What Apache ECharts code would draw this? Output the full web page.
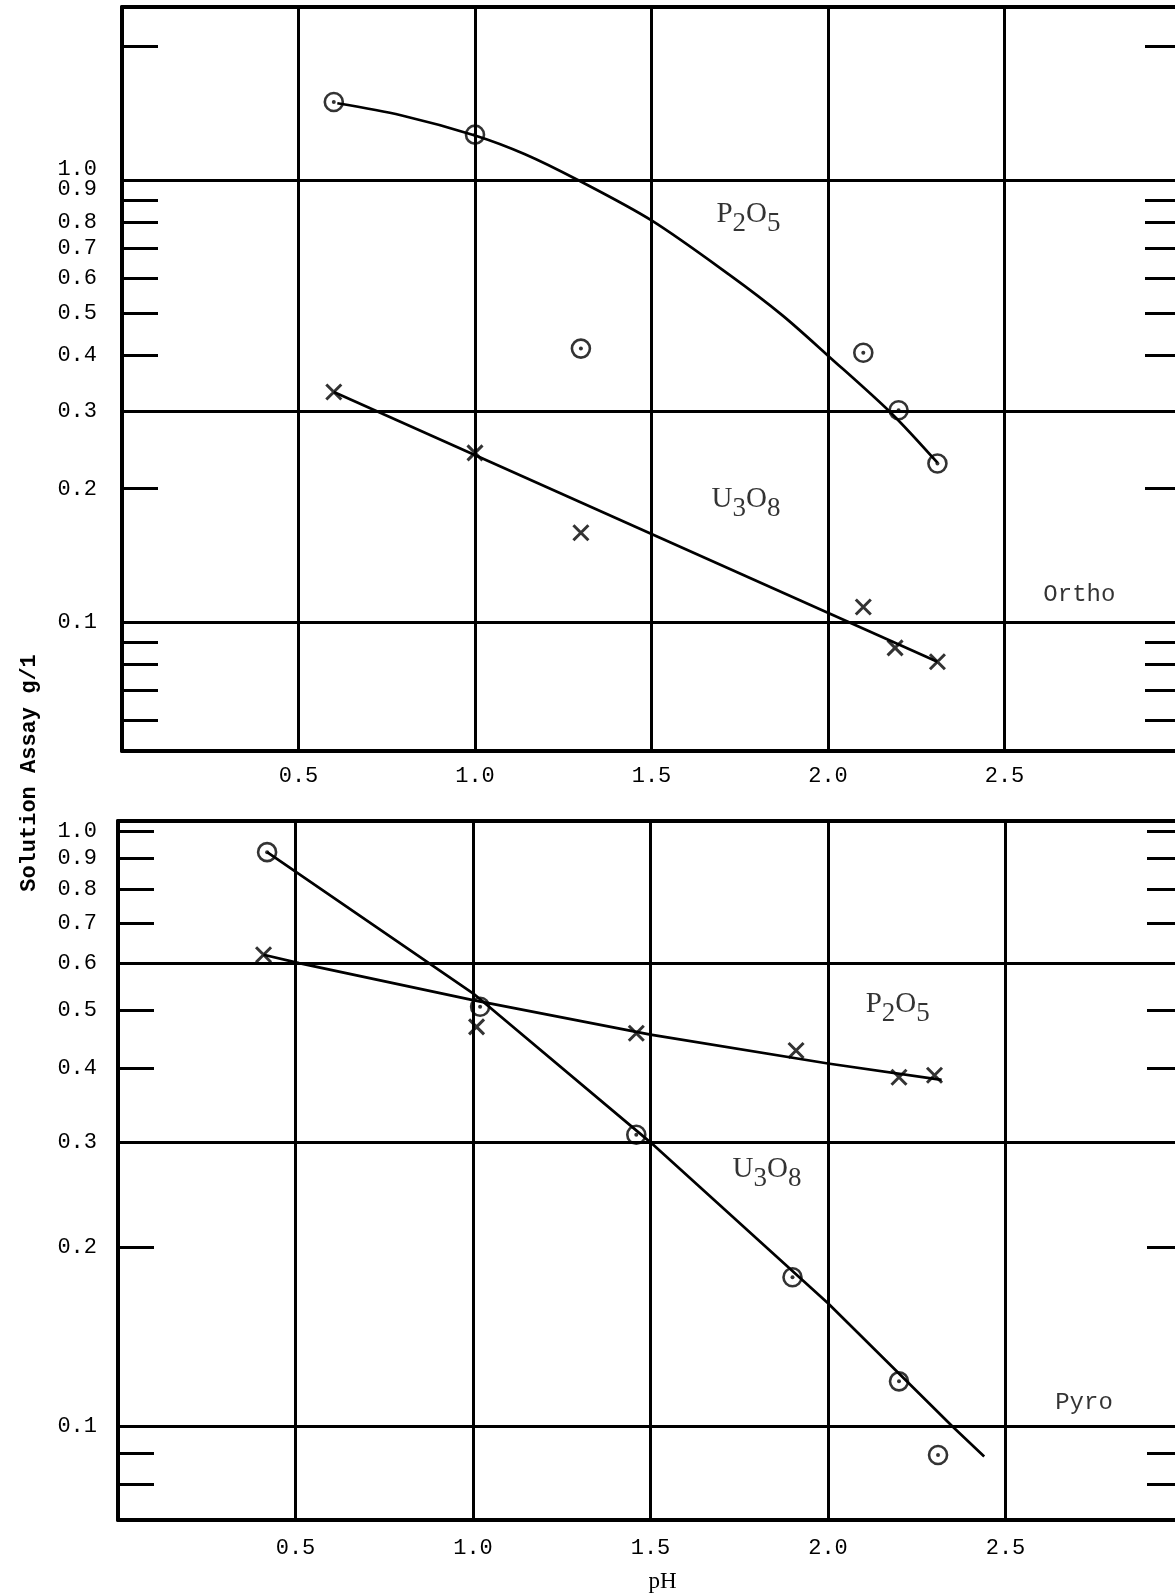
<!DOCTYPE html>
<html><head><meta charset="utf-8">
<script src="https://cdn.jsdelivr.net/npm/echarts@6/dist/echarts.min.js"></script>
<style>html,body{margin:0;padding:0;background:#fff;}#c{width:1175px;height:1595px;}</style>
</head><body><div id="c"></div>
<script>
// ---- tick / label values ----
const phTicks = [0.5, 1.0, 1.5, 2.0, 2.5];
const yLabelValues = [1.0, 0.9, 0.8, 0.7, 0.6, 0.5, 0.4, 0.3, 0.2, 0.1];
const orthoLabelValues = [0.8, 0.7, 0.6, 0.5, 0.4, 0.3, 0.2, 0.1];
const orthoCrowdedLabelA = [1.0];
const orthoCrowdedLabelB = [0.9];
const orthoTickValues = [2.0, 0.8, 0.7, 0.6, 0.5, 0.4, 0.2, 0.09, 0.08, 0.07, 0.06];
const orthoRightTickValues = [2.0, 0.9, 0.8, 0.7, 0.6, 0.5, 0.4, 0.2, 0.09, 0.08, 0.07, 0.06];
const orthoGridValues = [1.0, 0.3, 0.1];
const pyroTickValues = [1.0, 0.9, 0.8, 0.7, 0.5, 0.4, 0.2, 0.09, 0.08];
const pyroGridValues = [0.6, 0.3, 0.1];

// ---- Ortho panel data ----
const orthoP2O5_pH   = [0.6, 1.0, 1.3, 2.1, 2.2, 2.31];
const orthoP2O5      = [1.50, 1.265, 0.415, 0.406, 0.301, 0.228];
const orthoP2O5Fit_pH = [0.61, 0.79, 1.0, 1.14, 1.29, 1.5, 1.72, 1.87, 2.0, 2.18, 2.31];
const orthoP2O5Fit    = [1.49, 1.40, 1.26, 1.144, 1.0, 0.809, 0.610, 0.494, 0.40, 0.296, 0.229];
const orthoU3O8_pH   = [0.6, 1.0, 1.3, 2.1, 2.19, 2.31];
const orthoU3O8      = [0.331, 0.241, 0.159, 0.108, 0.0873, 0.0812];
const orthoU3O8Fit_pH = [0.6, 2.31];
const orthoU3O8Fit    = [0.331, 0.0812];

// ---- Pyro panel data ----
const pyroP2O5_pH   = [0.41, 1.01, 1.46, 1.91, 2.2, 2.3];
const pyroP2O5      = [0.620, 0.469, 0.4575, 0.428, 0.386, 0.389];
const pyroP2O5Fit_pH = [0.41, 0.51, 1.0, 1.5, 2.0, 2.32];
const pyroP2O5Fit    = [0.620, 0.60, 0.520, 0.455, 0.407, 0.382];
const pyroU3O8_pH   = [0.42, 1.02, 1.46, 1.9, 2.2, 2.31];
const pyroU3O8      = [0.922, 0.507, 0.309, 0.178, 0.119, 0.0895];
const pyroU3O8Fit_pH = [0.42, 1.0, 1.5, 2.0, 2.35, 2.44];
const pyroU3O8Fit    = [0.922, 0.534, 0.300, 0.161, 0.100, 0.089];

// ---- annotations (text, pH, value) ----
const orthoNotes = [['P{s|2}O{s|5}', 1.684, 0.833], ['U{s|3}O{s|8}', 1.67, 0.189], ['{m|Ortho}', 2.61, 0.115]];
const pyroNotes  = [['P{s|2}O{s|5}', 2.106, 0.511], ['U{s|3}O{s|8}', 1.731, 0.27], ['{m|Pyro}', 2.64, 0.1094]];

const MONO = '"Liberation Mono", "DejaVu Sans Mono", monospace';
const SERIF = '"Liberation Serif", "DejaVu Serif", serif';
const BLACK = '#000';
const zip = (a, b) => a.map((v, i) => [v, b[i]]);

function xAxes(gi, labelMargin, withName) {
  const base = {
    gridIndex: gi, type: 'value', min: 0, max: 3, interval: 0.5,
    axisLine: { show: true, onZero: false, lineStyle: { color: BLACK, width: 4 } },
    axisTick: { show: false }
  };
  const bottom = Object.assign({}, base, {
    position: 'bottom',
    splitLine: { show: true, lineStyle: { color: BLACK, width: 3 } },
    axisLabel: {
      margin: labelMargin, color: BLACK, fontFamily: MONO, fontSize: 22,
      formatter: v => phTicks.some(t => Math.abs(t - v) < 1e-9) ? Number(v).toFixed(1) : ''
    }
  });
  if (withName) {
    bottom.name = 'pH';
    bottom.nameLocation = 'middle';
    bottom.nameGap = 50;
    bottom.nameTextStyle = { fontFamily: SERIF, fontSize: 23, color: BLACK, padding: [0, 0, 0, 24] };
  }
  const top = Object.assign({}, base, { position: 'top', splitLine: { show: false }, axisLabel: { show: false } });
  return [bottom, top];
}

function yAxis(gi, min, max, position, ticks, labels, labelMargin, extra) {
  return Object.assign({
    gridIndex: gi, type: 'log', logBase: 10, min: min, max: max, position: position,
    splitLine: { show: false },
    axisLine: { show: true, onZero: false, lineStyle: { color: BLACK, width: 4 } },
    axisTick: { show: true, inside: true, length: 36, customValues: ticks, lineStyle: { color: BLACK, width: 3 } },
    minorTick: { show: false },
    axisLabel: labels ? {
      customValues: labels, margin: labelMargin, color: BLACK, fontFamily: MONO, fontSize: 22,
      hideOverlap: false, formatter: v => Number(v).toFixed(1)
    } : { show: false }
  }, extra || {});
}

function crowdedLabelAxis(values, vAlign, min, max) {
  return yAxis(0, min, max, 'left', values, values, 25, {
    offset: 0, axisLine: { show: false }, axisTick: { show: false },
    axisLabel: { customValues: values, margin: 25, color: BLACK, fontFamily: MONO, fontSize: 22,
      verticalAlign: vAlign, formatter: v => Number(v).toFixed(1) }
  });
}

const circleStyle = { color: 'rgba(0,0,0,0)', borderColor: BLACK, borderWidth: 2.6 };
const crossPath = 'path://M0,0L10,10M10,0L0,10';

function panelSeries(xi, yi, p2pH, p2, p2fpH, p2f, u3pH, u3, u3fpH, u3f, gridVals, notes, circlesAreP2O5) {
  const circPH = circlesAreP2O5 ? p2pH : u3pH, circV = circlesAreP2O5 ? p2 : u3;
  const crossPH = circlesAreP2O5 ? u3pH : p2pH, crossV = circlesAreP2O5 ? u3 : p2;
  const line = (d, smooth) => ({
    type: 'line', xAxisIndex: xi, yAxisIndex: yi, data: d, showSymbol: false, smooth: smooth,
    lineStyle: { color: BLACK, width: 2.7 }, silent: true, z: 3
  });
  return [
    Object.assign(line(zip(p2fpH, p2f), circlesAreP2O5 ? 0.3 : false), {
      markLine: {
        silent: true, symbol: ['none', 'none'], label: { show: false },
        lineStyle: { color: BLACK, width: 3, type: 'solid' },
        data: gridVals.map(v => ({ yAxis: v }))
      }
    }),
    line(zip(u3fpH, u3f), false),
    { type: 'scatter', xAxisIndex: xi, yAxisIndex: yi, data: zip(circPH, circV), symbol: 'circle', symbolSize: 18,
      itemStyle: circleStyle, z: 4 },
    { type: 'scatter', xAxisIndex: xi, yAxisIndex: yi, data: zip(circPH, circV), symbol: 'circle', symbolSize: 4,
      itemStyle: { color: BLACK }, z: 4 },
    { type: 'scatter', xAxisIndex: xi, yAxisIndex: yi, data: zip(crossPH, crossV), symbol: crossPath, symbolSize: 15,
      itemStyle: { color: 'rgba(0,0,0,0)', borderColor: BLACK, borderWidth: 3 }, z: 4 },
    { type: 'scatter', xAxisIndex: xi, yAxisIndex: yi, symbolSize: 0, silent: true, z: 5,
      data: notes.map(n => ({ value: [n[1], n[2]], label: { formatter: n[0] } })),
      label: {
        show: true, position: 'right', distance: 0, color: BLACK, fontFamily: SERIF, fontSize: 29,
        rich: {
          s: { fontFamily: SERIF, fontSize: 27, color: BLACK, padding: [18, 0, 0, 0] },
          m: { fontFamily: MONO, fontSize: 24, color: BLACK }
        }
      }
    }
  ];
}

const TOP_MIN = 0.051, TOP_MAX = 2.46, BOT_MIN = 0.0696, BOT_MAX = 1.04;
const chart = echarts.init(document.getElementById('c'), null, { renderer: 'canvas' });
chart.setOption({
  backgroundColor: '#fff',
  animation: false,
  grid: [
    { left: 122, top: 7, width: 1059, height: 744, outerBoundsMode: 'none', containLabel: false },
    { left: 118, top: 821, width: 1065, height: 699, outerBoundsMode: 'none', containLabel: false }
  ],
  xAxis: [].concat(xAxes(0, 14, false), xAxes(1, 17, true)),
  yAxis: [
    yAxis(0, TOP_MIN, TOP_MAX, 'left', orthoTickValues.concat([0.9]), orthoLabelValues, 25),
    yAxis(0, TOP_MIN, TOP_MAX, 'right', orthoRightTickValues, null, 0),
    yAxis(1, BOT_MIN, BOT_MAX, 'left', pyroTickValues, yLabelValues, 21),
    yAxis(1, BOT_MIN, BOT_MAX, 'right', pyroTickValues, null, 0),
    crowdedLabelAxis(orthoCrowdedLabelA, 'bottom', TOP_MIN, TOP_MAX),
    crowdedLabelAxis(orthoCrowdedLabelB, 'bottom', TOP_MIN, TOP_MAX)
  ],
  series: [].concat(
    panelSeries(0, 0, orthoP2O5_pH, orthoP2O5, orthoP2O5Fit_pH, orthoP2O5Fit,
      orthoU3O8_pH, orthoU3O8, orthoU3O8Fit_pH, orthoU3O8Fit, orthoGridValues, orthoNotes, true),
    panelSeries(2, 2, pyroP2O5_pH, pyroP2O5, pyroP2O5Fit_pH, pyroP2O5Fit,
      pyroU3O8_pH, pyroU3O8, pyroU3O8Fit_pH, pyroU3O8Fit, pyroGridValues, pyroNotes, false)
  ),
  graphic: [{
    type: 'text', x: 29, y: 773, rotation: Math.PI / 2,
    style: { text: 'Solution Assay g/1', font: 'bold 22px "Liberation Mono", monospace', fill: BLACK, align: 'center', verticalAlign: 'middle' }
  }]
});
</script></body></html>
